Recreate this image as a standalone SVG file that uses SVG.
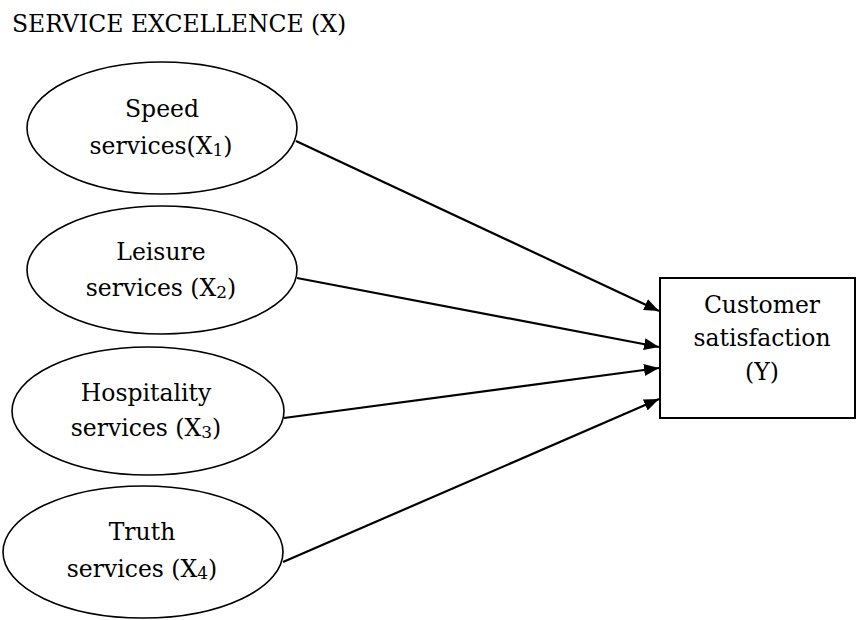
<svg xmlns="http://www.w3.org/2000/svg" width="857" height="620" viewBox="0 0 857 620">
<defs>
<style>
text{font-family:"DejaVu Serif","Liberation Serif",serif;font-size:23.5px;fill:#000}
.c{text-anchor:middle}
.sub{font-size:17px}
.node{fill:#fff;stroke:#000;stroke-width:1.6}
.box{fill:#fff;stroke:#000;stroke-width:2}
.edge{stroke:#000;stroke-width:2.2;fill:none}
</style>
<marker id="arr" markerUnits="userSpaceOnUse" markerWidth="16" markerHeight="12" refX="15" refY="6" orient="auto">
<path d="M0,0 L15,6 L0,12 Z" fill="#000"/>
</marker>
</defs>
<rect width="857" height="620" fill="#fff"/>
<text x="12" y="32">SERVICE EXCELLENCE (X)</text>
<g id="connectors">
<line class="edge" x1="296" y1="141" x2="659" y2="311" marker-end="url(#arr)"/>
<line class="edge" x1="297" y1="278" x2="659" y2="347" marker-end="url(#arr)"/>
<line class="edge" x1="284" y1="418" x2="659" y2="368" marker-end="url(#arr)"/>
<line class="edge" x1="283" y1="562" x2="659" y2="399" marker-end="url(#arr)"/>
</g>
<g id="x1">
<ellipse class="node" cx="162" cy="128" rx="135" ry="66"/>
<text class="c" x="162" y="117">Speed</text>
<text class="c" x="161" y="154">services(X<tspan class="sub" dy="2">1</tspan><tspan dy="-2">)</tspan></text>
</g>
<g id="x2">
<ellipse class="node" cx="162" cy="270" rx="135" ry="64"/>
<text class="c" x="161" y="260">Leisure</text>
<text class="c" x="161" y="296">services (X<tspan class="sub" dy="2">2</tspan><tspan dy="-2">)</tspan></text>
</g>
<g id="x3">
<ellipse class="node" cx="148" cy="411" rx="136" ry="64"/>
<text class="c" x="146" y="401">Hospitality</text>
<text class="c" x="146" y="436">services (X<tspan class="sub" dy="2">3</tspan><tspan dy="-2">)</tspan></text>
</g>
<g id="x4">
<ellipse class="node" cx="143" cy="552" rx="140" ry="66"/>
<text class="c" x="142" y="540">Truth</text>
<text class="c" x="142" y="577">services (X<tspan class="sub" dy="2">4</tspan><tspan dy="-2">)</tspan></text>
</g>
<g id="y">
<rect class="box" x="660" y="278" width="195" height="140"/>
<text class="c" x="762" y="313">Customer</text>
<text class="c" x="762" y="346">satisfaction</text>
<text class="c" x="762" y="380">(Y)</text>
</g>
</svg>
